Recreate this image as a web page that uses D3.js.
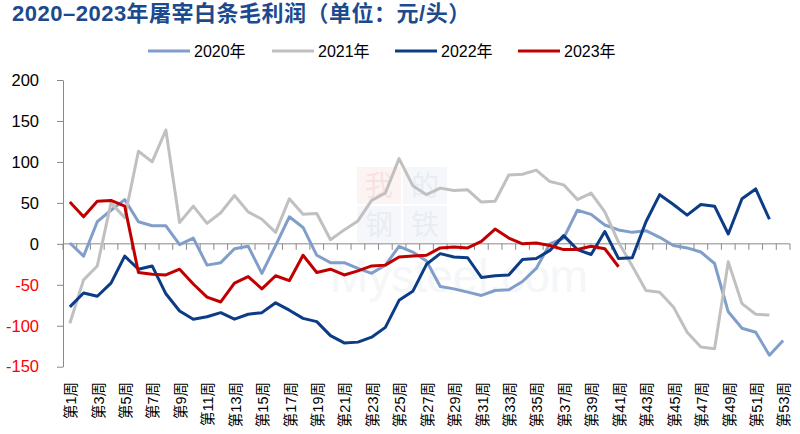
<!DOCTYPE html>
<html>
<head>
<meta charset="utf-8">
<script src="https://cdn.jsdelivr.net/npm/d3@7/dist/d3.min.js"></script>
<style>
  html, body { margin: 0; padding: 0; background: #fff; }
  svg { display: block; }
</style>
</head>
<body>
<svg id="chart" width="800" height="434"></svg>
<script>
// ---------- data ----------
const weeks = d3.range(1, 54);
const weekLabels = weeks.map(w => "第" + w + "周");
const seriesNames = ["2020年", "2021年", "2022年", "2023年"];
const y2020 = [1, -15, 27, 41, 54, 27, 22, 22, -1, 7, -26, -23, -6, -3, -36, -2, 33, 20, -14, -23,
  -23, -30, -36, -26, -3, -10, -21, -52, -55, -59, -63, -57, -56, -46, -30, 0, 7, 41, 36, 23,
  17, 14, 16, 8, -2, -5, -10, -24, -83, -103, -108, -136, -118];
const y2021 = [-97, -44, -27, 50, 32, 113, 100, 139, 26, 46, 25, 38, 59, 39, 30, 14, 55, 36, 37, 5,
  17, 28, 53, 62, 104, 71, 60, 68, 65, 66, 51, 52, 84, 85, 90, 76, 72, 54, 62, 39,
  2, -27, -57, -59, -77, -108, -126, -128, -22, -73, -86, -87];
const y2022 = [-77, -60, -64, -48, -15, -31, -27, -61, -82, -92, -89, -84, -92, -86, -84, -72, -81, -91, -95, -112,
  -121, -120, -114, -102, -69, -58, -25, -12, -16, -17, -41, -39, -38, -19, -18, -8, 10, -7, -13, 15,
  -18, -17, 27, 60, 48, 35, 48, 46, 12, 55, 67, 30];
const y2023 = [51, 33, 52, 53, 46, -35, -37, -38, -31, -49, -65, -71, -48, -40, -55, -39, -45, -14, -35, -31,
  -38, -33, -27, -26, -16, -15, -14, -5, -4, -5, 3, 18, 7, 0, 1, -2, -7, -7, -3, -6, -28];
const yTicks = [-150, -100, -50, 0, 50, 100, 150, 200];
const titleText = "2020–2023年屠宰白条毛利润（单位：元/头）";

// ---------- styles ----------
const colors = ["#819ECB", "#C0C0C0", "#0B3C85", "#C00000"];
const allSeries = [y2020, y2021, y2022, y2023];
const axisColor = "#898989";
const fontLatin = "'Liberation Sans', Arial, 'Noto Sans CJK SC', sans-serif";

const svg = d3.select("#chart");

// ---------- scales ----------
const x = d3.scaleBand().domain(weeks).range([63, 790]).padding(0);
const y = d3.scaleLinear().domain([-150, 200]).range([366.7, 80]);
const cx = w => x(w) + x.bandwidth() / 2;

// ---------- title ----------
svg.append("text")
  .attr("x", 12).attr("y", 21)
  .attr("font-family", fontLatin)
  .attr("font-weight", "bold")
  .attr("font-size", 22)
  .attr("letter-spacing", 0.5)
  .attr("fill", "#1B4A8E")
  .text(titleText);

// ---------- watermark ----------
const wm = svg.append("g").attr("opacity", 0.5);
const boxes = [
  {x: 357, y: 167, c: "#fbe9e9", t: "我", tc: "#f2c4c4"},
  {x: 403, y: 167, c: "#eef1f8", t: "的", tc: "#d3dbea"},
  {x: 357, y: 206, c: "#eef1f8", t: "钢", tc: "#d3dbea"},
  {x: 403, y: 206, c: "#eef1f8", t: "铁", tc: "#d3dbea"}
];
boxes.forEach(b => {
  wm.append("rect").attr("x", b.x).attr("y", b.y).attr("width", 44).attr("height", 37).attr("fill", b.c);
  wm.append("text").attr("x", b.x + 22).attr("y", b.y + 29).attr("text-anchor", "middle")
    .attr("font-family", "'Noto Sans CJK SC'").attr("font-size", 28).attr("fill", b.tc).text(b.t);
});
wm.append("text").attr("x", 330).attr("y", 292)
  .attr("font-family", fontLatin).attr("font-size", 46).attr("fill", "#eceef2")
  .text("Mysteel.com");

// ---------- y axis ----------
const yAxis = d3.axisLeft(y).tickValues(yTicks).tickSize(6).tickSizeOuter(0).tickPadding(18)
  .tickFormat(d => d < 0 ? "-" + Math.abs(d) : String(d));
const gy = svg.append("g").attr("transform", "translate(63,0)").call(yAxis);
gy.select(".domain").attr("stroke", axisColor);
gy.selectAll(".tick line").attr("stroke", axisColor);
gy.selectAll(".tick text")
  .attr("font-family", fontLatin)
  .attr("font-size", 16.5)
  .attr("fill", d => d < 0 ? "#FF0000" : "#000");

// ---------- x axis at zero ----------
const gx = svg.append("g");
gx.append("line")
  .attr("x1", 63).attr("x2", 790)
  .attr("y1", y(0)).attr("y2", y(0))
  .attr("stroke", axisColor);
const boundaries = weeks.map(w => x(w)).concat([x.range()[1]]);
gx.selectAll("line.tk").data(boundaries).enter().append("line")
  .attr("class", "tk")
  .attr("x1", d => d).attr("x2", d => d)
  .attr("y1", y(0)).attr("y2", y(0) + 6)
  .attr("stroke", axisColor);

// x labels (odd weeks)
svg.append("g").selectAll("text")
  .data(weeks.filter(w => w % 2 === 1))
  .enter().append("text")
  .attr("transform", w => `translate(${cx(w) + 1},382) rotate(-90)`)
  .attr("text-anchor", "end")
  .attr("dy", "0.36em")
  .attr("font-family", fontLatin)
  .attr("font-size", 14.5)
  .attr("fill", "#000")
  .text(w => weekLabels[w - 1]);

// ---------- lines ----------
const line = d3.line()
  .x((d, i) => cx(weeks[i]))
  .y(d => y(d));
allSeries.forEach((s, i) => {
  svg.append("path")
    .datum(s)
    .attr("d", line)
    .attr("fill", "none")
    .attr("stroke", colors[i])
    .attr("stroke-width", 3)
    .attr("stroke-linejoin", "round");
});

// ---------- legend ----------
const legendX = [148, 272, 395, 518];
const lg = svg.append("g");
seriesNames.forEach((n, i) => {
  lg.append("line")
    .attr("x1", legendX[i]).attr("x2", legendX[i] + 42)
    .attr("y1", 51).attr("y2", 51)
    .attr("stroke", colors[i]).attr("stroke-width", 3);
  lg.append("text")
    .attr("x", legendX[i] + 46).attr("y", 51)
    .attr("dy", "0.36em")
    .attr("font-family", fontLatin)
    .attr("font-size", 16)
    .attr("fill", "#000")
    .text(n);
});
</script>
</body>
</html>
